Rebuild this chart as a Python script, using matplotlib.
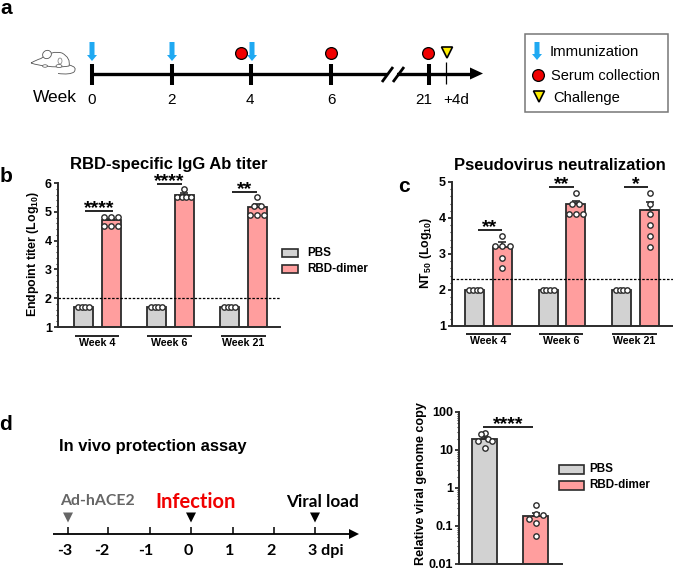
import matplotlib
matplotlib.use("Agg")
import matplotlib.pyplot as plt
import numpy as np
from matplotlib.patches import Polygon, Rectangle, PathPatch, Ellipse
from matplotlib.path import Path
from matplotlib.ticker import MultipleLocator, FixedLocator, NullFormatter

plt.rcParams['font.family'] = ['Liberation Sans', 'DejaVu Sans']
plt.rcParams['mathtext.fontset'] = 'custom'
plt.rcParams['mathtext.default'] = 'regular'
plt.rcParams['mathtext.rm'] = 'Liberation Sans:bold'

W, H = 673, 570

# panel b
weeks = ["Week 4", "Week 6", "Week 21"]
b_pbs = [1.7, 1.7, 1.7]
b_rbd = [4.7, 5.58, 5.18]
b_pbs_err = [0.02, 0.02, 0.02]
b_rbd_err = [0.06, 0.07, 0.10]
b_pbs_pts = [[1.7] * 4, [1.7] * 4, [1.7] * 4]
b_rbd_pts = [[4.82, 4.82, 4.82, 4.52, 4.52, 4.52],
             [5.8, 5.52, 5.52, 5.52, 5.52],
             [5.5, 5.2, 5.2, 4.9, 4.9, 4.9]]
b_stars = ["****", "****", "**"]

# panel c
c_pbs = [2.0, 2.0, 2.0]
c_rbd = [3.2, 4.38, 4.23]
c_pbs_err = [0.01, 0.01, 0.01]
c_rbd_err = [0.12, 0.10, 0.22]
c_pbs_pts = [[2.0] * 4, [2.0] * 4, [2.0] * 4]
c_rbd_pts = [[3.5, 3.22, 3.22, 3.22, 2.9, 2.6],
             [4.7, 4.4, 4.4, 4.1, 4.1, 4.1],
             [4.7, 4.4, 4.1, 3.8, 3.5, 3.2]]
c_stars = ["**", "**", "*"]

# panel d
d_groups = ["PBS", "RBD-dimer"]
d_means = [20, 0.18]
d_err = [2.5, 0.04]
d_pts = [[28, 26, 20, 17, 17, 11], [0.35, 0.21, 0.19, 0.15, 0.12, 0.054]]

# timelines
week_ticks = ["0", "2", "4", "6", "21"]
dpi_ticks = ["-3", "-2", "-1", "0", "1", "2", "3 dpi"]

GREY = "#d2d2d2"
PINK = "#ff9e9e"
DARK = "#2b2b2b"
BLUE = "#1fa9f2"

fig = plt.figure(figsize=(W / 100, H / 100), dpi=100)


def px_axes(left, right, top, bottom):
    return fig.add_axes([left / W, 1 - bottom / H, (right - left) / W, (bottom - top) / H])


def spread(values, max_w, step=7.0):
    # rows of equal values get centred side by side
    dx = []
    for k, v in enumerate(values):
        same = [i for i, u in enumerate(values) if u == v]
        n = len(same)
        s = min(step, max_w / (n - 1)) if n > 1 else 0
        dx.append((same.index(k) - (n - 1) / 2) * s)
    return dx


def style_axis(ax):
    for s in ["top", "right"]:
        ax.spines[s].set_visible(False)
    for s in ["left", "bottom"]:
        ax.spines[s].set_linewidth(1.4)
        ax.spines[s].set_color(DARK)
    ax.set_xticks([])
    ax.patch.set_alpha(0)
    ax.tick_params(axis="y", which="major", length=3.2, width=1.3, color=DARK, pad=1.2,
                   labelsize=9)
    ax.tick_params(axis="y", which="minor", length=1.8, width=0.8, color=DARK)
    for t in ax.get_yticklabels():
        t.set_fontweight("bold")


def bar_panel(ax, pos, means, errs, pts, color, width, w_row, offsets=None):
    ax.bar(pos, means, width=width, color=color, edgecolor=DARK, linewidth=1.3, zorder=2)
    ax.errorbar(pos, means, yerr=[[0] * len(pos), errs], fmt="none", ecolor=DARK,
                elinewidth=1.2, capsize=3, capthick=1.2, zorder=3)
    for i, (x, row) in enumerate(zip(pos, pts)):
        dx = offsets[i] if offsets is not None else spread(row, w_row)
        ax.scatter(np.array(dx) + x, row, s=15, facecolor="white", edgecolor=DARK,
                   linewidth=1.0, zorder=4, clip_on=False)


# panel b chart
ax_b = px_axes(58, 280, 183, 327)
ax_b.set_xlim(0, 222)
ax_b.set_ylim(1, 6)
pos0 = np.array([25.5, 98.5, 171.5])
pos1 = np.array([53.0, 126.0, 199.0])
bar_panel(ax_b, pos0, b_pbs, b_pbs_err, b_pbs_pts, GREY, 19, 11)
bar_panel(ax_b, pos1, b_rbd, b_rbd_err, b_rbd_pts, PINK, 19, 14)
ax_b.axhline(2, color="black", lw=0.9, ls=(0, (2, 1.3)), zorder=5)
ax_b.yaxis.set_major_locator(MultipleLocator(1))
ax_b.yaxis.set_minor_locator(MultipleLocator(0.2))
style_axis(ax_b)

# panel c chart
ax_c = px_axes(452, 673, 182, 326)
ax_c.set_xlim(0, 221)
ax_c.set_ylim(1, 5)
pos0_c = np.array([23.0, 96.0, 169.5])
pos1_c = np.array([50.5, 123.5, 197.5])
bar_panel(ax_c, pos0_c, c_pbs, c_pbs_err, c_pbs_pts, GREY, 19, 11)
bar_panel(ax_c, pos1_c, c_rbd, c_rbd_err, c_rbd_pts, PINK, 19, 14)
ax_c.axhline(2.3, color="black", lw=0.9, ls=(0, (2, 1.3)), zorder=5)
ax_c.yaxis.set_major_locator(MultipleLocator(1))
ax_c.yaxis.set_minor_locator(MultipleLocator(0.2))
style_axis(ax_c)

# panel d chart
ax_d = px_axes(459, 562, 412, 564)
ax_d.set_xlim(0, 103)
ax_d.set_yscale("log")
ax_d.set_ylim(0.01, 100)
d_dx = [[0, -4, 3, -7, 7, 0], [0, 0, 7, -7, 0, 0]]
for i, c in enumerate([GREY, PINK]):
    bar_panel(ax_d, [25.5 + i * 51], [d_means[i]], [d_err[i]], [d_pts[i]], c, 25, 0, [d_dx[i]])
ax_d.set_yticks([0.01, 0.1, 1, 10, 100])
ax_d.set_yticklabels(["0.01", "0.1", "1", "10", "100"])
ax_d.yaxis.set_minor_locator(FixedLocator(
    [m * 10.0 ** e for e in range(-2, 2) for m in range(2, 10)]))
ax_d.yaxis.set_minor_formatter(NullFormatter())
style_axis(ax_d)

# overlay in pixel coordinates for schematics and annotations
ov = fig.add_axes([0, 0, 1, 1], zorder=10)
ov.set_xlim(0, W)
ov.set_ylim(H, 0)
ov.axis("off")


def txt(x, y, s, size=9.5, weight="normal", color="black", ha="center", **kw):
    ov.text(x, y, s, fontsize=size, fontweight=weight, color=color, ha=ha, va="center", **kw)


def line(x0, x1, y0, y1, lw=1.2, color="black", **kw):
    ov.plot([x0, x1], [y0, y1], color=color, lw=lw, solid_capstyle="butt", **kw)


def down_arrow(x, top, bottom):
    w = 5
    head = 6
    pts = [(x - w / 2, top), (x + w / 2, top), (x + w / 2, bottom - head), (x + 5, bottom - head),
           (x, bottom), (x - 5, bottom - head), (x - w / 2, bottom - head)]
    ov.add_patch(Polygon(pts, closed=True, fc=BLUE, ec="none"))


def tri(x, top, half, height, fc, ec="black", lw=1.2):
    ov.add_patch(Polygon([(x - half, top), (x + half, top), (x, top + height)], closed=True,
                         fc=fc, ec=ec, lw=lw, zorder=3))


def circle(x, y):
    ov.scatter([x], [y], s=72, facecolor="#f00000", edgecolor="black", linewidth=0.9, zorder=3)


# panel letters
txt(6, 8, "a", 15, "bold")
txt(6, 177, "b", 15, "bold")
txt(404, 187, "c", 15, "bold")
txt(6, 425, "d", 15, "bold")

# panel a
MOUSE_EC = "#555555"
ov.add_patch(PathPatch(Path(
    [(31, 63), (36, 60), (41, 58.5), (52, 50), (62, 53), (71, 58), (69, 66),
     (58, 68), (46, 66), (38, 65.5), (31, 63)],
    [Path.MOVETO, Path.CURVE3, Path.CURVE3, Path.CURVE3, Path.CURVE3, Path.CURVE3, Path.CURVE3,
     Path.CURVE3, Path.CURVE3, Path.CURVE3, Path.CURVE3]), fc="white", ec=MOUSE_EC, lw=0.6))
ov.add_patch(PathPatch(Path(
    [(69, 65), (78, 67), (74, 72), (70, 75), (58, 73.5)],
    [Path.MOVETO, Path.CURVE3, Path.CURVE3, Path.CURVE3, Path.CURVE3]),
    fc="none", ec=MOUSE_EC, lw=0.6))
ov.add_patch(Ellipse((47, 54.5), 9, 8, angle=-30, fc="white", ec=MOUSE_EC, lw=0.6))
ov.add_patch(Ellipse((45, 66), 5, 2.5, fc="white", ec=MOUSE_EC, lw=0.5))
ov.add_patch(Ellipse((59, 66), 6, 3, fc="white", ec=MOUSE_EC, lw=0.5))
ov.add_patch(Ellipse((60, 61), 4, 6, fc="none", ec=MOUSE_EC, lw=0.4))

line(92, 474, 73.5, 73.5, lw=2.4)
ov.add_patch(Polygon([(470, 67.5), (483, 73.5), (470, 79.5)], closed=True, fc="black", ec="none"))
week_x = [92, 172, 251, 331, 429]
for x, lab, lx in zip(week_x, week_ticks, [92, 172, 250, 331, 424]):
    line(x, x, 64, 85, lw=2.9)
    txt(lx, 100, lab, 11)
line(446, 446, 62, 84, lw=0.9)
txt(456, 100, "+4d", 11)
txt(54.5, 98, "Week", 12.5)
ov.add_patch(Rectangle((387, 68), 10, 12, fc="white", ec="none", zorder=2))
for x in [387.5, 398.5]:
    ov.plot([x - 5.5, x + 5.5], [82, 67], color="black", lw=2, zorder=3, solid_capstyle="butt")
for x in [92, 172, 252]:
    down_arrow(x, 42, 61)
for x in [241, 331, 428]:
    circle(x, 53)
tri(447, 47, 5.5, 11, "#ffee00")

ov.add_patch(Rectangle((525, 34), 143, 78, fc="white", ec="#777777", lw=1.1))
down_arrow(537, 42, 60)
circle(538, 75)
tri(539, 91, 5.5, 11, "#ffee00")
txt(550, 52, "Immunization", 10.8, ha="left")
txt(551, 75.5, "Serum collection", 10.5, ha="left")
txt(553, 98, "Challenge", 10.6, ha="left")

# panel titles
txt(169, 164, "RBD-specific IgG Ab titer", 12, "bold")
txt(559.5, 165, "Pseudovirus neutralization", 12, "bold")

# y labels placed by hand like the other annotations
ov.text(33, 254, "Endpoint titer (Log$_{10}$)", fontsize=8.9, fontweight="bold",
        rotation=90, ha="center", va="center")
ov.text(426, 253, "NT$_{50}$ (Log$_{10}$)", fontsize=8.9, fontweight="bold",
        rotation=90, ha="center", va="center")
ov.text(421, 484, "Relative viral genome copy", fontsize=9.1, fontweight="bold",
        rotation=90, ha="center", va="center")

# b annotations
for x0, x1, y, s in zip([85, 157, 232], [113, 182, 257], [211, 184, 192], b_stars):
    line(x0, x1, y, y, lw=1.2)
    txt((x0 + x1) / 2, y - 2.5, s, 14, "bold")
for x0, x1, lab in zip([75, 147, 221], [119, 192, 266], weeks):
    line(x0, x1, 335.5, 335.5, lw=1.2)
    txt((x0 + x1) / 2, 343, lab, 7.7, "bold")
for y, c, lab in zip([253, 269], [GREY, PINK], d_groups):
    ov.add_patch(Rectangle((282, y - 4), 16, 8, fc=c, ec=DARK, lw=1.2))
    txt(307, y, lab, 8.4, "bold", ha="left")

# c annotations
for x0, x1, y, s in zip([478, 549, 624], [502, 574, 648], [230, 187, 187], c_stars):
    line(x0, x1, y, y, lw=1.2)
    txt((x0 + x1) / 2, y - 2.5, s, 14, "bold")
for x0, x1, lab in zip([466, 539, 612], [511, 583, 657], weeks):
    line(x0, x1, 333.5, 333.5, lw=1.2)
    txt((x0 + x1) / 2, 341.5, lab, 7.7, "bold")

# d schematic
txt(59, 447, "In vivo protection assay", 11.9, "bold", ha="left")
line(53, 351, 534, 534, lw=1.3)
ov.add_patch(Polygon([(349, 529), (359, 534), (349, 539)], closed=True, fc="black", ec="none"))
dpi_x = [68, 108, 150, 191, 233, 274, 315]
LATO = ["Lato", "DejaVu Sans"]
for x, lab, lx in zip(dpi_x, dpi_ticks, [65, 102, 146, 188, 230, 271, 326]):
    line(x, x, 527, 534, lw=1.1)
    txt(lx, 551, lab, 11.6, "bold", family=LATO)
tri(68, 512.5, 5, 10, "#666666", ec="none")
tri(191, 512.5, 5, 10, "black", ec="none")
tri(315, 512.5, 5, 10, "black", ec="none")
txt(97, 501, "Ad-hACE2", 11.4, "bold", color="#666666", family=LATO)
txt(196, 502, "Infection", 14.5, "bold", color="#f00000", family=LATO)
txt(322.5, 502, "Viral load", 12.3, "bold", family=LATO)

# d chart annotations
line(483, 533, 427, 427, lw=1.2)
txt(508, 424.5, "****", 14, "bold")
for y, c, lab in zip([469, 485], [GREY, PINK], d_groups):
    ov.add_patch(Rectangle((559, y - 4.5), 25, 9, fc=c, ec=DARK, lw=1.2))
    txt(589, y, lab, 8.4, "bold", ha="left")

fig.savefig("out.png", dpi=100)
